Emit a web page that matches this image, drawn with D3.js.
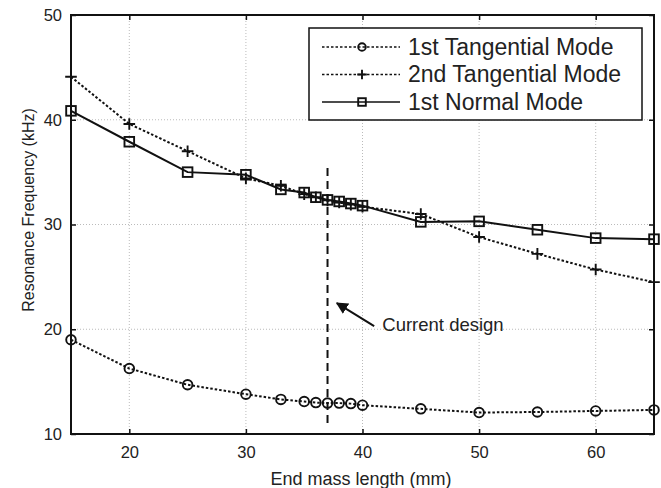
<!DOCTYPE html>
<html>
<head>
<meta charset="utf-8">
<script src="https://cdn.jsdelivr.net/npm/d3@7"></script>
<style>
  body { margin: 0; background: #fff; }
  svg { font-family: "Liberation Sans", Arial, sans-serif; }
</style>
</head>
<body>
<svg id="chart" width="661" height="488"></svg>
<script>
// end mass lengths (mm)
var lengths = [15, 20, 25, 30, 33, 35, 36, 37, 38, 39, 40, 45, 50, 55, 60, 65];
// resonance frequencies (kHz)
var tang1 = [19.0, 16.25, 14.7, 13.8, 13.3, 13.1, 13.0, 12.95, 12.95, 12.9, 12.75, 12.4, 12.05, 12.1, 12.2, 12.3];
var tang2 = [44.1, 39.6, 37.0, 34.4, 33.7, 32.9, 32.6, 32.3, 32.1, 31.9, 31.7, 31.0, 28.8, 27.2, 25.7, 24.5];
var normal1 = [40.85, 37.9, 35.0, 34.75, 33.35, 33.05, 32.6, 32.35, 32.2, 32.0, 31.8, 30.25, 30.3, 29.5, 28.7, 28.6];

var xTicks = [20, 30, 40, 50, 60];
var yTicks = [10, 20, 30, 40, 50];
var seriesNames = ["1st Tangential Mode", "2nd Tangential Mode", "1st Normal Mode"];
var designX = 37;

var svg = d3.select("#chart");
// plot box (note: "top" is taken by window.top, so prefixed names)
var pLeft = 71, pRight = 654, pTop = 15, pBottom = 434;
var ink = "#111";

var x = d3.scaleLinear().domain([15, 65]).range([pLeft, pRight]);
var y = d3.scaleLinear().domain([10, 50]).range([pBottom, pTop]);

//// grid
var grid = svg.append("g");
grid.selectAll(".gx").data(xTicks).enter().append("line")
  .attr("x1", d => x(d)).attr("x2", d => x(d)).attr("y1", pTop).attr("y2", pBottom)
  .attr("stroke", "#aaa").attr("stroke-width", 0.8).attr("stroke-dasharray", "1,2");
grid.selectAll(".gy").data(yTicks).enter().append("line")
  .attr("x1", pLeft).attr("x2", pRight).attr("y1", d => y(d)).attr("y2", d => y(d))
  .attr("stroke", "#aaa").attr("stroke-width", 0.8).attr("stroke-dasharray", "1,2");

//// axes (MATLAB style, ticks inside)
svg.append("g").attr("transform", "translate(0," + pBottom + ")")
  .call(d3.axisBottom(x).tickValues(xTicks).tickSize(-5).tickPadding(12));
svg.append("g").attr("transform", "translate(" + pLeft + ",0)")
  .call(d3.axisLeft(y).tickValues(yTicks).tickSize(-5).tickPadding(9));
svg.append("g").attr("transform", "translate(0," + pTop + ")")
  .call(d3.axisTop(x).tickValues(xTicks).tickSize(-5).tickFormat(""));
svg.append("g").attr("transform", "translate(" + pRight + ",0)")
  .call(d3.axisRight(y).tickValues(yTicks).tickSize(-5).tickFormat(""));
svg.selectAll(".domain").remove();
svg.selectAll(".tick line").attr("stroke", ink).attr("stroke-width", 1.5);
svg.selectAll(".tick text").attr("fill", "#222").style("font-size", "16.5px").style("font-family", "Liberation Sans, Arial, sans-serif");

svg.append("rect").attr("x", pLeft).attr("y", pTop).attr("width", pRight - pLeft).attr("height", pBottom - pTop)
  .attr("fill", "none").attr("stroke", ink).attr("stroke-width", 2);

//// axis titles
svg.append("text").attr("x", 361).attr("y", 485).attr("text-anchor", "middle")
  .style("font-size", "18px").attr("fill", "#222").text("End mass length (mm)");
svg.append("text").attr("transform", "translate(34,210) rotate(-90)")
  .attr("text-anchor", "middle").style("font-size", "16px").attr("fill", "#222")
  .text("Resonance Frequency (kHz)");

//// current design line and annotation
svg.append("line").attr("x1", x(designX)).attr("x2", x(designX)).attr("y1", y(35.4)).attr("y2", y(10.9))
  .attr("stroke", ink).attr("stroke-width", 2).attr("stroke-dasharray", "8,5");

svg.append("defs").append("marker").attr("id", "arrow").attr("viewBox", "0 0 10 10")
  .attr("refX", 9).attr("refY", 5).attr("markerWidth", 6).attr("markerHeight", 6).attr("orient", "auto")
  .append("path").attr("d", "M0,0 L10,5 L0,10 z").attr("fill", ink);
svg.append("line").attr("x1", x(41.0)).attr("y1", y(20.3)).attr("x2", x(37.8)).attr("y2", y(22.5))
  .attr("stroke", ink).attr("stroke-width", 2).attr("marker-end", "url(#arrow)");
svg.append("text").attr("x", x(41.7)).attr("y", y(19.85)).style("font-size", "18.5px").attr("fill", "#222")
  .text("Current design");

//// series
var line = d3.line().x((d, i) => x(lengths[i])).y(d => y(d));
var series = [
  { name: seriesNames[0], values: tang1, dash: "2.5,2", marker: "circle" },
  { name: seriesNames[1], values: tang2, dash: "2.5,2", marker: "plus" },
  { name: seriesNames[2], values: normal1, dash: null, marker: "square" }
];

function drawMarker(g, type, cx, cy, sz) {
  if (type == "circle") {
    g.append("circle").attr("cx", cx).attr("cy", cy).attr("r", sz)
      .attr("fill", "none").attr("stroke", ink).attr("stroke-width", 1.9);
  } else if (type == "square") {
    g.append("rect").attr("x", cx - sz).attr("y", cy - sz).attr("width", 2 * sz).attr("height", 2 * sz)
      .attr("fill", "none").attr("stroke", ink).attr("stroke-width", 1.9);
  } else {
    var h = sz + 1;
    g.append("path").attr("d", "M" + (cx - h) + "," + cy + "H" + (cx + h) + "M" + cx + "," + (cy - h) + "V" + (cy + h))
      .attr("stroke", ink).attr("stroke-width", 1.9);
  }
}

series.forEach(function(s) {
  var g = svg.append("g");
  g.append("path").datum(s.values).attr("d", line).attr("fill", "none")
    .attr("stroke", ink).attr("stroke-width", 2).attr("stroke-dasharray", s.dash);
  s.values.forEach(function(v, i) { drawMarker(g, s.marker, x(lengths[i]), y(v), 4.8); });
});

//// legend
var lg = svg.append("g");
lg.append("rect").attr("x", 309).attr("y", 28).attr("width", 333).attr("height", 92)
  .attr("fill", "#fff").attr("stroke", ink).attr("stroke-width", 1.5);
series.forEach(function(s, i) {
  var ly = 47 + i * 27.5;
  lg.append("line").attr("x1", 322).attr("x2", 400).attr("y1", ly).attr("y2", ly)
    .attr("stroke", ink).attr("stroke-width", 1.5).attr("stroke-dasharray", s.dash);
  drawMarker(lg, s.marker, 362, ly, 3.8);
  lg.append("text").attr("x", 408).attr("y", ly + 7.5).style("font-size", "23px").attr("fill", "#222").text(s.name);
});
</script>
</body>
</html>
